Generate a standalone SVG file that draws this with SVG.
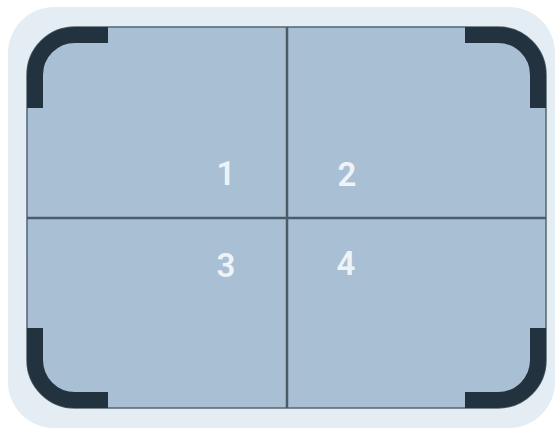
<svg xmlns="http://www.w3.org/2000/svg" width="559" height="430" viewBox="0 0 559 430">
<style>
.lbl{font-family:Roboto,"Liberation Sans",sans-serif;font-size:33px;font-weight:600;fill:#eef3f8;text-anchor:middle}
.br{fill:none;stroke:#22333f;stroke-width:16}
.div{stroke:#4b5c68;stroke-width:2.5}
</style>
<rect x="8" y="7" width="547" height="421" rx="46" fill="#e4edf3"/>
<rect id="screen" x="27" y="27" width="519" height="381" rx="48" fill="#a9bfd3" stroke="#56656f" stroke-width="1.5"/>
<g id="q1"><text class="lbl" x="226" y="185">1</text></g>
<g id="q2"><text class="lbl" x="347" y="186">2</text></g>
<g id="q3"><text class="lbl" x="226" y="277">3</text></g>
<g id="q4"><text class="lbl" x="346" y="275">4</text></g>
<g id="dividers">
<line class="div" x1="287" y1="27" x2="287" y2="408"/>
<line class="div" x1="27" y1="218" x2="546" y2="218"/>
</g>
<g id="brackets">
<path class="br" d="M35,108 V75 A40,40 0 0 1 75,35 H108"/>
<path class="br" d="M465,35 H498 A40,40 0 0 1 538,75 V108"/>
<path class="br" d="M35,328 V360 A40,40 0 0 0 75,400 H108"/>
<path class="br" d="M465,400 H498 A40,40 0 0 0 538,360 V328"/>
</g>
</svg>
